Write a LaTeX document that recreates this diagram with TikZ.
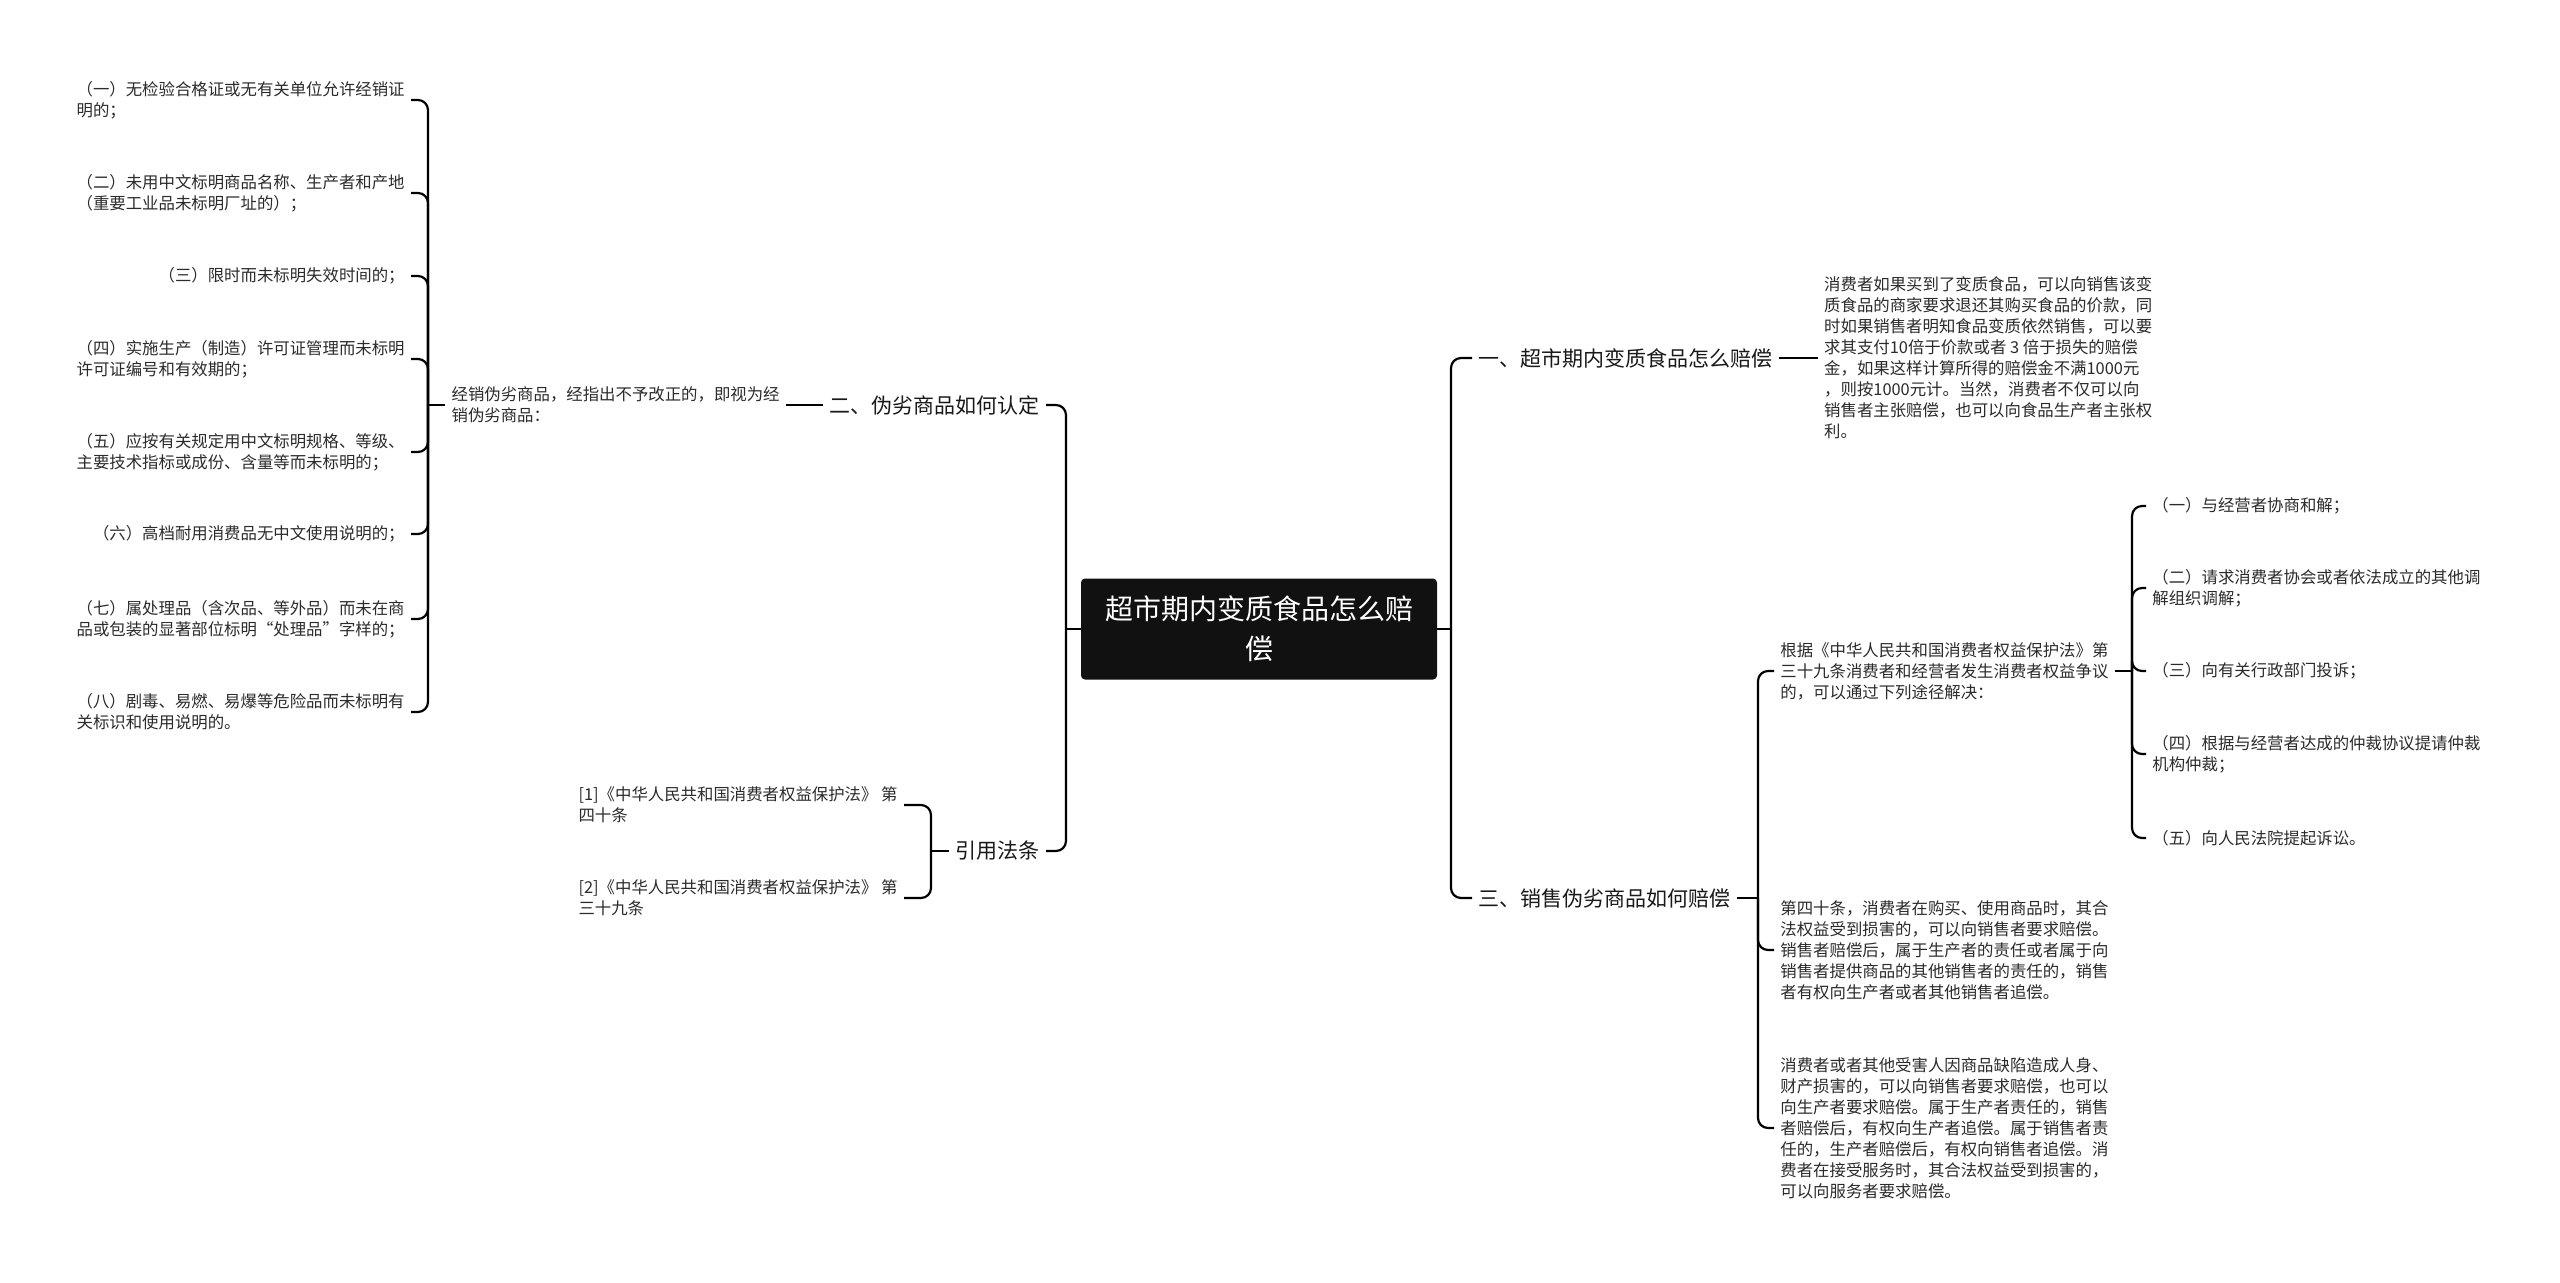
\documentclass[tikz,border=0pt]{standalone}
\usepackage{fontspec}
\setmainfont{Noto Sans CJK SC}
\usetikzlibrary{positioning}
\definecolor{rootFill}{HTML}{111111}
\definecolor{inkGray}{HTML}{2B2B2B}

\begin{document}
\begin{tikzpicture}[
            x=0.5pt, y=-0.5pt,
            root/.style={
                    fill=rootFill,
                    text=white,
                    rounded corners=2pt,
                    minimum width=178pt,
                    minimum height=50.5pt,
                    align=center,
                    font=\fontsize{14}{20}\selectfont
                },
            branch/.style={
                    text=black!90,
                    inner xsep=3pt,
                    inner ysep=2pt,
                    font=\fontsize{10.5}{13}\selectfont
                },
            leaf/.style={
                    text=inkGray,
                    inner xsep=3pt,
                    inner ysep=2pt,
                    align=left,
                    font=\fontsize{8.2}{10.5}\selectfont
                },
            link/.style={
                    draw=black,
                    line width=1.1pt,
                    rounded corners=5pt
                }
            ]

            \path[use as bounding box, fill=white] (0,0) rectangle (2560,1282);

            % Tema central
            \node[root] (root) at (1259,629) {超市期内变质食品怎么赔\\偿};

            % --- RAMA IZQUIERDA ---

            % 二、伪劣商品如何认定
            \node[branch, anchor=east] (secTwo) at (1046,405) {二、伪劣商品如何认定};

            % 引用法条
            \node[branch, anchor=east] (secRefs) at (1046,851) {引用法条};

            % definición
            \node[leaf, anchor=east] (defText) at (786,405) {经销伪劣商品，经指出不予改正的，即视为经\\销伪劣商品：};

            % los ocho casos
            \node[leaf, anchor=east] (caseOne) at (411,100) {（一）无检验合格证或无有关单位允许经销证\\明的；};
            \node[leaf, anchor=east] (caseTwo) at (411,193) {（二）未用中文标明商品名称、生产者和产地\\（重要工业品未标明厂址的）；};
            \node[leaf, anchor=east] (caseThree) at (411,276) {（三）限时而未标明失效时间的；};
            \node[leaf, anchor=east] (caseFour) at (411,359) {（四）实施生产（制造）许可证管理而未标明\\许可证编号和有效期的；};
            \node[leaf, anchor=east] (caseFive) at (411,452) {（五）应按有关规定用中文标明规格、等级、\\主要技术指标或成份、含量等而未标明的；};
            \node[leaf, anchor=east] (caseSix) at (411,534) {（六）高档耐用消费品无中文使用说明的；};
            \node[leaf, anchor=east] (caseSeven) at (411,619) {（七）属处理品（含次品、等外品）而未在商\\品或包装的显著部位标明“处理品”字样的；};
            \node[leaf, anchor=east] (caseEight) at (411,712) {（八）剧毒、易燃、易爆等危险品而未标明有\\关标识和使用说明的。};

            % referencias legales
            \node[leaf, anchor=east] (refOne) at (904,805) {[1]《中华人民共和国消费者权益保护法》 第\\四十条};
            \node[leaf, anchor=east] (refTwo) at (904,898) {[2]《中华人民共和国消费者权益保护法》 第\\三十九条};

            % --- RAMA DERECHA ---

            % 一、超市期内变质食品怎么赔偿
            \node[branch, anchor=west] (secOne) at (1472,358) {一、超市期内变质食品怎么赔偿};

            \node[leaf, right=19.5pt of secOne] (secOneText) {消费者如果买到了变质食品，可以向销售该变\\质食品的商家要求退还其购买食品的价款，同\\时如果销售者明知食品变质依然销售，可以要\\求其支付10倍于价款或者 3 倍于损失的赔偿\\金，如果这样计算所得的赔偿金不满1000元\\，则按1000元计。当然，消费者不仅可以向\\销售者主张赔偿，也可以向食品生产者主张权\\利。};

            % 三、销售伪劣商品如何赔偿
            \node[branch, anchor=west] (secThree) at (1472,898) {三、销售伪劣商品如何赔偿};

            \node[leaf, anchor=west] (lawText) at (1774,671) {根据《中华人民共和国消费者权益保护法》第\\三十九条消费者和经营者发生消费者权益争议\\的，可以通过下列途径解决：};
            \node[leaf, anchor=west] (artForty) at (1774,950) {第四十条，消费者在购买、使用商品时，其合\\法权益受到损害的，可以向销售者要求赔偿。\\销售者赔偿后，属于生产者的责任或者属于向\\销售者提供商品的其他销售者的责任的，销售\\者有权向生产者或者其他销售者追偿。};
            \node[leaf, anchor=west] (defectText) at (1774,1128) {消费者或者其他受害人因商品缺陷造成人身、\\财产损害的，可以向销售者要求赔偿，也可以\\向生产者要求赔偿。属于生产者责任的，销售\\者赔偿后，有权向生产者追偿。属于销售者责\\任的，生产者赔偿后，有权向销售者追偿。消\\费者在接受服务时，其合法权益受到损害的，\\可以向服务者要求赔偿。};

            % vías de solución
            \node[leaf, anchor=west] (wayOne) at (2146,506) {（一）与经营者协商和解；};
            \node[leaf, anchor=west] (wayTwo) at (2146,588) {（二）请求消费者协会或者依法成立的其他调\\解组织调解；};
            \node[leaf, anchor=west] (wayThree) at (2146,671) {（三）向有关行政部门投诉；};
            \node[leaf, anchor=west] (wayFour) at (2146,754) {（四）根据与经营者达成的仲裁协议提请仲裁\\机构仲裁；};
            \node[leaf, anchor=west] (wayFive) at (2146,838) {（五）向人民法院提起诉讼。};

            % --- CONEXIONES ---

            % puntos de unión
            \coordinate (rootLeft) at (1066,629);
            \coordinate (rootRight) at (1451,629);
            \coordinate (defJoin) at (428,405);
            \coordinate (refJoin) at (931,851);
            \coordinate (secThreeJoin) at (1758,898);
            \coordinate (lawJoin) at (2132,671);

            % raíz hacia las ramas
            \draw[link] (root.west) -- (rootLeft);
            \draw[link] (rootLeft) |- (secTwo.east);
            \draw[link] (rootLeft) |- (secRefs.east);
            \draw[link] (root.east) -- (rootRight);
            \draw[link] (rootRight) |- (secOne.west);
            \draw[link] (rootRight) |- (secThree.west);

            % 二 y sus casos
            \draw[link] (secTwo.west) -- (defText.east);
            \draw[link] (defText.west) -- (defJoin);
            \draw[link] (defJoin) |- (caseOne.east);
            \draw[link] (defJoin) |- (caseTwo.east);
            \draw[link] (defJoin) |- (caseThree.east);
            \draw[link] (defJoin) |- (caseFour.east);
            \draw[link] (defJoin) |- (caseFive.east);
            \draw[link] (defJoin) |- (caseSix.east);
            \draw[link] (defJoin) |- (caseSeven.east);
            \draw[link] (defJoin) |- (caseEight.east);

            % referencias
            \draw[link] (secRefs.west) -- (refJoin);
            \draw[link] (refJoin) |- (refOne.east);
            \draw[link] (refJoin) |- (refTwo.east);

            % 一
            \draw[link] (secOne.east) -- (secOneText.west);

            % 三 y sus textos
            \draw[link] (secThree.east) -- (secThreeJoin);
            \draw[link] (secThreeJoin) |- (lawText.west);
            \draw[link] (secThreeJoin) |- (artForty.west);
            \draw[link] (secThreeJoin) |- (defectText.west);

            % vías de solución
            \draw[link] (lawText.east) -- (lawJoin);
            \draw[link] (lawJoin) |- (wayOne.west);
            \draw[link] (lawJoin) |- (wayTwo.west);
            \draw[link] (lawJoin) |- (wayThree.west);
            \draw[link] (lawJoin) |- (wayFour.west);
            \draw[link] (lawJoin) |- (wayFive.west);

        \end{tikzpicture}
\end{document}
